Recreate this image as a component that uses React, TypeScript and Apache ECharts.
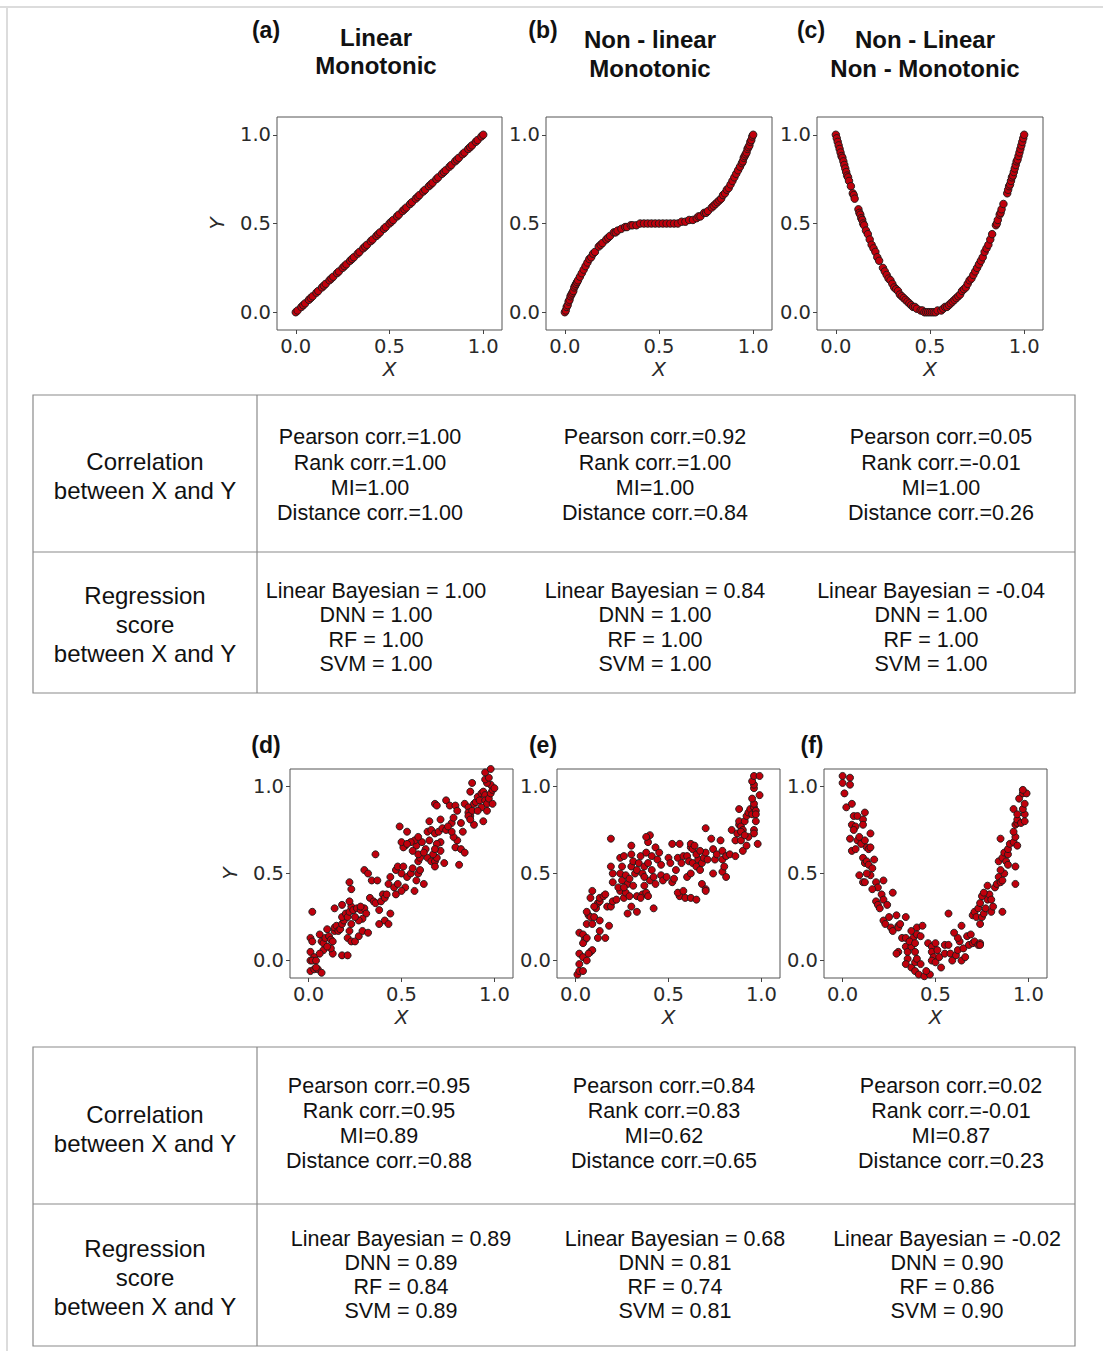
import React, { useEffect, useRef } from "react";
import * as echarts from "echarts";

// ---------- tick labels ----------
const tickValues = [0, 0.5, 1.0];

// ---------- (a) linear monotonic ----------
const aX = [0.00,0.01,0.03,0.04,0.05,0.07,0.08,0.09,0.11,0.12,0.14,0.15,0.16,0.18,0.19,0.20,0.22,0.23,0.25,0.26,0.27,0.29,0.30,0.31,0.33,0.34,0.36,0.37,0.38,0.40,0.41,0.43,0.44,0.45,0.47,0.48,0.50,0.51,0.52,0.54,0.55,0.57,0.58,0.59,0.61,0.62,0.64,0.65,0.66,0.68,0.69,0.71,0.72,0.73,0.75,0.76,0.78,0.79,0.80,0.82,0.83,0.85,0.86,0.87,0.89,0.90,0.92,0.93,0.94,0.96,0.97,0.99,1.00];
const aY = [0.00,0.01,0.03,0.04,0.05,0.07,0.08,0.09,0.11,0.12,0.14,0.15,0.16,0.18,0.19,0.20,0.22,0.23,0.25,0.26,0.27,0.29,0.30,0.31,0.33,0.34,0.36,0.37,0.38,0.40,0.41,0.43,0.44,0.45,0.47,0.48,0.50,0.51,0.52,0.54,0.55,0.57,0.58,0.59,0.61,0.62,0.64,0.65,0.66,0.68,0.69,0.71,0.72,0.73,0.75,0.76,0.78,0.79,0.80,0.82,0.83,0.85,0.86,0.87,0.89,0.90,0.92,0.93,0.94,0.96,0.97,0.99,1.00];

// ---------- (b) non-linear monotonic ----------
const bX = [0.000,0.005,0.010,0.015,0.020,0.025,0.030,0.035,0.040,0.045,0.050,0.055,0.060,0.065,0.070,0.080,0.090,0.100,0.110,0.120,0.130,0.140,0.150,0.160,0.180,0.190,0.200,0.220,0.230,0.240,0.260,0.270,0.280,0.300,0.320,0.330,0.350,0.360,0.380,0.400,0.420,0.440,0.460,0.480,0.500,0.520,0.540,0.560,0.580,0.600,0.620,0.640,0.660,0.680,0.700,0.710,0.720,0.740,0.750,0.760,0.780,0.790,0.800,0.810,0.820,0.830,0.840,0.850,0.860,0.870,0.880,0.890,0.900,0.910,0.920,0.930,0.940,0.945,0.950,0.955,0.960,0.965,0.970,0.975,0.980,0.985,0.990,0.995,1.000];
const bY = [0.00,0.01,0.03,0.04,0.06,0.07,0.09,0.10,0.11,0.12,0.14,0.15,0.16,0.17,0.18,0.20,0.22,0.24,0.26,0.28,0.30,0.31,0.33,0.34,0.37,0.38,0.39,0.41,0.42,0.43,0.45,0.45,0.46,0.47,0.48,0.48,0.49,0.49,0.49,0.50,0.50,0.50,0.50,0.50,0.50,0.50,0.50,0.50,0.50,0.50,0.51,0.51,0.52,0.52,0.53,0.54,0.54,0.56,0.56,0.57,0.59,0.60,0.61,0.62,0.63,0.64,0.66,0.67,0.69,0.70,0.72,0.74,0.76,0.78,0.80,0.82,0.84,0.85,0.87,0.88,0.89,0.90,0.92,0.93,0.94,0.96,0.97,0.99,1.00];

// ---------- (c) non-linear non-monotonic ----------
const cX = [0.000,0.005,0.010,0.015,0.020,0.025,0.030,0.035,0.040,0.045,0.050,0.055,0.060,0.065,0.070,0.080,0.090,0.095,0.100,0.120,0.125,0.130,0.135,0.140,0.145,0.150,0.160,0.170,0.180,0.190,0.200,0.210,0.220,0.230,0.250,0.260,0.270,0.280,0.290,0.300,0.310,0.320,0.330,0.340,0.350,0.360,0.370,0.380,0.390,0.400,0.410,0.420,0.430,0.450,0.460,0.470,0.480,0.490,0.500,0.510,0.520,0.530,0.540,0.560,0.570,0.580,0.590,0.600,0.610,0.620,0.630,0.640,0.650,0.660,0.670,0.680,0.690,0.700,0.710,0.720,0.730,0.740,0.750,0.760,0.770,0.780,0.790,0.800,0.810,0.820,0.830,0.850,0.855,0.860,0.870,0.875,0.880,0.890,0.910,0.915,0.920,0.925,0.930,0.935,0.940,0.945,0.950,0.955,0.960,0.965,0.970,0.975,0.980,0.985,0.990,0.995,1.000];
const cY = [1.00,0.98,0.96,0.94,0.92,0.90,0.88,0.87,0.85,0.83,0.81,0.79,0.77,0.76,0.74,0.71,0.67,0.66,0.64,0.58,0.56,0.55,0.53,0.52,0.50,0.49,0.46,0.44,0.41,0.38,0.36,0.34,0.31,0.29,0.25,0.23,0.21,0.19,0.18,0.16,0.14,0.13,0.12,0.10,0.09,0.08,0.07,0.06,0.05,0.04,0.03,0.03,0.02,0.01,0.01,0.00,0.00,0.00,0.00,0.00,0.00,0.00,0.01,0.01,0.02,0.03,0.03,0.04,0.05,0.06,0.07,0.08,0.09,0.10,0.12,0.13,0.14,0.16,0.18,0.19,0.21,0.23,0.25,0.27,0.29,0.31,0.34,0.36,0.38,0.41,0.44,0.49,0.50,0.52,0.55,0.56,0.58,0.61,0.67,0.69,0.71,0.72,0.74,0.76,0.77,0.79,0.81,0.83,0.85,0.86,0.88,0.90,0.92,0.94,0.96,0.98,1.00];

// ---------- (d) noisy linear ----------
const dPoints = [
[0.02,0.28],[0.01,0.13],[0.02,0.11],[0.01,0.05],[0.03,0.02],[0.01,0.00],[0.02,0.00],[0.04,0.00],[0.01,-0.06],[0.03,-0.05],[0.05,-0.05],[0.07,-0.07],[0.04,-0.04],
[0.06,0.15],[0.07,0.11],[0.08,0.10],[0.10,0.18],[0.09,0.13],[0.11,0.14],[0.12,0.12],[0.13,0.11],[0.14,0.17],[0.14,0.19],[0.15,0.20],[0.16,0.17],[0.17,0.18],[0.18,0.21],[0.19,0.23],[0.18,0.25],[0.20,0.27],[0.21,0.25],[0.22,0.28],[0.23,0.31],[0.24,0.29],[0.26,0.30],[0.28,0.29],[0.30,0.30],[0.31,0.27],[0.29,0.24],[0.27,0.23],[0.25,0.25],[0.23,0.21],[0.22,0.17],[0.21,0.13],[0.23,0.11],[0.25,0.11],[0.27,0.14],[0.29,0.17],[0.32,0.16],
[0.13,0.04],[0.12,0.07],[0.08,0.06],[0.06,0.04],[0.10,0.08],[0.18,0.03],[0.21,0.03],[0.14,0.30],[0.18,0.32],[0.22,0.45],[0.23,0.41],[0.22,0.34],[0.28,0.31],
[0.30,0.52],[0.32,0.50],[0.34,0.46],[0.36,0.61],[0.37,0.46],[0.33,0.36],[0.35,0.34],[0.36,0.33],[0.38,0.29],[0.39,0.34],[0.40,0.38],[0.41,0.36],[0.38,0.21],[0.41,0.23],[0.43,0.21],[0.44,0.27],[0.42,0.38],[0.43,0.44],[0.44,0.48],[0.46,0.42],[0.47,0.38],[0.48,0.44],[0.47,0.52],[0.48,0.54],[0.50,0.50],[0.51,0.54],[0.52,0.42],[0.50,0.40],[0.53,0.48],[0.55,0.50],[0.56,0.53],[0.57,0.40],[0.58,0.46],[0.59,0.50],[0.60,0.52],[0.62,0.44],[0.59,0.57],[0.60,0.59],[0.59,0.61],[0.58,0.66],[0.57,0.69],[0.55,0.68],[0.53,0.74],[0.52,0.66],[0.51,0.65],[0.50,0.68],[0.49,0.77],[0.53,0.67],[0.56,0.63],
[0.64,0.59],[0.66,0.57],[0.68,0.57],[0.69,0.59],[0.71,0.63],[0.73,0.56],[0.68,0.54],[0.67,0.61],[0.65,0.69],[0.64,0.74],[0.66,0.75],[0.68,0.73],[0.70,0.74],[0.72,0.76],[0.74,0.75],[0.71,0.68],[0.69,0.67],[0.68,0.64],[0.63,0.64],[0.61,0.68],[0.59,0.71],[0.62,0.62],[0.65,0.80],[0.68,0.90],[0.69,0.89],[0.71,0.81],[0.74,0.92],[0.76,0.89],[0.77,0.79],[0.78,0.82],[0.79,0.89],[0.80,0.86],[0.82,0.79],[0.83,0.74],[0.80,0.69],[0.78,0.71],[0.79,0.65],[0.82,0.64],[0.84,0.62],[0.81,0.55],[0.77,0.74],[0.75,0.77],
[0.84,0.90],[0.86,0.88],[0.86,0.85],[0.87,0.83],[0.88,0.86],[0.89,0.90],[0.90,0.91],[0.91,0.94],[0.92,0.92],[0.93,0.96],[0.94,0.97],[0.95,0.95],[0.95,0.92],[0.96,0.90],[0.97,0.93],[0.98,0.96],[0.99,0.98],[0.98,1.01],[0.96,1.02],[0.95,1.04],[0.97,1.05],[0.95,1.08],[0.98,1.10],[0.88,1.02],[0.87,0.97],[0.89,0.78],[0.94,0.80],[0.96,0.86],[0.99,0.90],[1.00,0.99],[0.93,0.88],[0.91,0.86],[0.86,0.83],[0.87,0.81]
];

// ---------- (e) noisy non-linear monotonic ----------
const ePoints = [
[0.01,-0.08],[0.02,-0.06],[0.04,-0.06],[0.02,-0.02],[0.02,0.04],[0.04,0.02],[0.06,0.00],[0.08,0.05],[0.09,0.06],[0.07,0.04],[0.02,0.16],[0.04,0.15],[0.05,0.12],[0.04,0.10],[0.06,0.13],[0.06,0.21],[0.07,0.26],[0.08,0.25],[0.06,0.28],[0.09,0.21],[0.10,0.25],[0.11,0.30],[0.12,0.33],[0.10,0.31],[0.13,0.34],[0.13,0.36],[0.15,0.37],[0.16,0.38],[0.09,0.40],[0.08,0.36],[0.13,0.23],[0.13,0.17],[0.12,0.13],[0.16,0.13],[0.18,0.20],[0.17,0.31],[0.19,0.31],[0.20,0.34],
[0.19,0.70],[0.20,0.50],[0.19,0.54],[0.20,0.45],[0.22,0.35],[0.24,0.40],[0.23,0.42],[0.25,0.46],[0.24,0.50],[0.25,0.54],[0.24,0.59],[0.26,0.60],[0.27,0.49],[0.26,0.36],[0.27,0.39],[0.28,0.44],[0.29,0.47],[0.30,0.54],[0.30,0.61],[0.30,0.66],[0.31,0.57],[0.32,0.50],[0.33,0.52],[0.34,0.56],[0.35,0.60],[0.36,0.50],[0.37,0.54],[0.33,0.37],[0.36,0.38],[0.38,0.39],[0.39,0.37],[0.37,0.43],[0.40,0.46],[0.42,0.48],[0.43,0.44],[0.41,0.52],[0.39,0.56],[0.38,0.62],[0.39,0.68],[0.40,0.72],[0.38,0.71],[0.41,0.60],[0.43,0.65],[0.44,0.58],[0.45,0.62],[0.46,0.55],[0.46,0.49],[0.47,0.46],[0.49,0.48],[0.50,0.59],[0.51,0.56],[0.52,0.45],[0.53,0.47],[0.54,0.52],[0.30,0.31],[0.28,0.27],[0.33,0.28],[0.42,0.30],[0.29,0.37],[0.35,0.36],[0.37,0.48],[0.31,0.43],[0.26,0.42],
[0.52,0.67],[0.56,0.67],[0.55,0.59],[0.57,0.56],[0.56,0.37],[0.55,0.39],[0.58,0.40],[0.59,0.36],[0.62,0.36],[0.65,0.35],[0.58,0.60],[0.60,0.60],[0.61,0.57],[0.62,0.65],[0.62,0.67],[0.63,0.64],[0.64,0.66],[0.60,0.48],[0.62,0.50],[0.63,0.56],[0.65,0.54],[0.66,0.58],[0.67,0.52],[0.68,0.56],[0.69,0.59],[0.70,0.62],[0.71,0.58],[0.68,0.44],[0.70,0.41],[0.70,0.40],[0.65,0.61],[0.67,0.63],[0.70,0.76],[0.73,0.70],[0.74,0.64],[0.74,0.50],[0.75,0.58],[0.76,0.61],[0.78,0.69],[0.79,0.58],[0.79,0.63],[0.79,0.51],[0.81,0.48],[0.80,0.54],[0.81,0.60],[0.83,0.61],[0.86,0.60],
[0.84,0.75],[0.86,0.69],[0.87,0.73],[0.88,0.78],[0.88,0.80],[0.89,0.77],[0.90,0.75],[0.91,0.80],[0.92,0.83],[0.93,0.85],[0.94,0.87],[0.95,0.84],[0.96,0.88],[0.96,0.90],[0.97,0.86],[0.97,0.84],[0.96,0.75],[0.96,0.73],[0.97,0.80],[0.89,0.69],[0.90,0.63],[0.92,0.66],[0.93,0.71],[0.98,0.67],[0.88,0.87],[0.95,0.93],[0.96,0.99],[0.96,1.01],[0.95,1.03],[0.96,1.06],[0.99,1.06],[0.99,0.95],[0.89,0.74],[0.91,0.72]
];

// ---------- (f) noisy non-monotonic ----------
const fPoints = [
[0.00,1.06],[0.04,1.05],[0.00,1.02],[0.04,1.01],[0.01,0.96],[0.02,0.88],[0.05,0.90],[0.06,0.83],[0.08,0.83],[0.05,0.78],[0.07,0.77],[0.11,0.81],[0.12,0.85],[0.11,0.78],[0.06,0.75],[0.04,0.70],[0.05,0.63],[0.08,0.69],[0.09,0.71],[0.10,0.67],[0.12,0.69],[0.13,0.65],[0.14,0.64],[0.15,0.73],[0.15,0.65],[0.07,0.64],[0.11,0.59],[0.12,0.56],[0.13,0.57],[0.14,0.55],[0.16,0.53],[0.17,0.58],[0.15,0.49],[0.13,0.50],[0.09,0.49],[0.11,0.45],[0.12,0.45],[0.18,0.45],[0.19,0.42],[0.22,0.46],[0.16,0.41],[0.21,0.38],[0.18,0.34],[0.19,0.32],[0.20,0.30],[0.22,0.35],[0.24,0.32],[0.27,0.39],
[0.22,0.23],[0.23,0.21],[0.25,0.25],[0.26,0.19],[0.27,0.17],[0.29,0.26],[0.30,0.20],[0.30,0.19],[0.31,0.21],[0.34,0.25],[0.32,0.13],[0.34,0.13],[0.37,0.17],[0.38,0.13],[0.40,0.19],[0.40,0.15],[0.42,0.14],[0.43,0.20],[0.30,0.05],[0.29,0.04],[0.34,0.08],[0.35,0.05],[0.37,0.08],[0.36,0.11],[0.39,0.10],[0.39,0.05],[0.35,0.01],[0.34,-0.02],[0.37,-0.04],[0.39,-0.01],[0.40,0.01],[0.39,-0.06],[0.41,-0.08],[0.44,-0.09],[0.47,-0.08],[0.45,-0.06],[0.42,-0.02],
[0.46,0.10],[0.48,0.08],[0.48,0.05],[0.50,0.10],[0.51,0.06],[0.49,0.02],[0.48,0.00],[0.50,-0.01],[0.52,0.02],[0.53,-0.04],[0.55,0.04],[0.55,0.09],[0.57,0.09],[0.58,0.04],[0.59,0.00],[0.61,0.03],[0.62,0.06],[0.63,0.11],[0.62,0.13],[0.60,0.16],[0.64,0.20],[0.64,0.00],[0.66,0.02],[0.65,0.07],[0.67,0.14],[0.68,0.09],[0.69,0.15],[0.70,0.10],[0.71,0.11],[0.73,0.09],[0.74,0.10],[0.74,0.09],[0.57,0.27],
[0.70,0.26],[0.71,0.28],[0.72,0.25],[0.73,0.30],[0.74,0.33],[0.74,0.21],[0.75,0.25],[0.76,0.27],[0.77,0.30],[0.78,0.35],[0.79,0.38],[0.80,0.28],[0.81,0.31],[0.80,0.35],[0.75,0.37],[0.76,0.39],[0.78,0.43],[0.82,0.42],[0.83,0.44],[0.84,0.48],[0.85,0.45],[0.86,0.46],[0.87,0.50],[0.85,0.52],[0.84,0.57],[0.86,0.59],[0.88,0.57],[0.87,0.62],[0.89,0.61],[0.89,0.64],[0.86,0.28],[0.89,0.55],[0.93,0.54],[0.93,0.44],
[0.85,0.70],[0.90,0.67],[0.92,0.68],[0.93,0.71],[0.94,0.66],[0.92,0.74],[0.93,0.78],[0.94,0.79],[0.94,0.81],[0.96,0.79],[0.98,0.84],[0.97,0.87],[0.98,0.90],[0.95,0.93],[0.97,0.96],[0.99,0.96],[0.97,0.98],[0.92,0.87],[0.98,0.80],[0.94,0.84]
];

// ---------- text content ----------
const panelLetters = ["(a)", "(b)", "(c)", "(d)", "(e)", "(f)"];
const titleLines = [
  ["Linear", "Monotonic"],
  ["Non - linear", "Monotonic"],
  ["Non - Linear", "Non - Monotonic"],
];
const rowLabelsCorr = ["Correlation", "between X and Y"];
const rowLabelsReg = ["Regression", "score", "between X and Y"];
const corrTop = [
  ["Pearson corr.=1.00", "Rank corr.=1.00", "MI=1.00", "Distance corr.=1.00"],
  ["Pearson corr.=0.92", "Rank corr.=1.00", "MI=1.00", "Distance corr.=0.84"],
  ["Pearson corr.=0.05", "Rank corr.=-0.01", "MI=1.00", "Distance corr.=0.26"],
];
const regTop = [
  ["Linear Bayesian = 1.00", "DNN = 1.00", "RF = 1.00", "SVM = 1.00"],
  ["Linear Bayesian = 0.84", "DNN = 1.00", "RF = 1.00", "SVM = 1.00"],
  ["Linear Bayesian = -0.04", "DNN = 1.00", "RF = 1.00", "SVM = 1.00"],
];
const corrBottom = [
  ["Pearson corr.=0.95", "Rank corr.=0.95", "MI=0.89", "Distance corr.=0.88"],
  ["Pearson corr.=0.84", "Rank corr.=0.83", "MI=0.62", "Distance corr.=0.65"],
  ["Pearson corr.=0.02", "Rank corr.=-0.01", "MI=0.87", "Distance corr.=0.23"],
];
const regBottom = [
  ["Linear Bayesian = 0.89", "DNN = 0.89", "RF = 0.84", "SVM = 0.89"],
  ["Linear Bayesian = 0.68", "DNN = 0.81", "RF = 0.74", "SVM = 0.81"],
  ["Linear Bayesian = -0.02", "DNN = 0.90", "RF = 0.86", "SVM = 0.90"],
];

const TITLE_FONT = "'Liberation Sans', Arial, Helvetica, sans-serif";
const TICK_FONT = "'DejaVu Sans', sans-serif";

export default function App() {
  const ref = useRef<HTMLDivElement>(null);

  useEffect(() => {
    if (!ref.current) return;
    const chart = echarts.init(ref.current, null, { renderer: "svg" });

    const grids = [
      { left: 277, top: 117, width: 225, height: 213 },
      { left: 546, top: 117, width: 226, height: 213 },
      { left: 817, top: 117, width: 226, height: 213 },
      { left: 290, top: 769, width: 223, height: 209 },
      { left: 557, top: 769, width: 223, height: 209 },
      { left: 824, top: 769, width: 223, height: 209 },
    ];

    const zip = (xs: number[], ys: number[]) => xs.map((x, i) => [x, ys[i]]);
    const seriesData = [zip(aX, aY), zip(bX, bY), zip(cX, cY), dPoints, ePoints, fPoints];

    const axisCommon = {
      type: "value",
      min: -0.1,
      max: 1.1,
      splitLine: { show: false },
      axisLine: { show: false, onZero: false },
      axisTick: {
        show: true,
        inside: false,
        length: 4,
        lineStyle: { color: "#444", width: 1 },
        customValues: tickValues,
      },
      axisLabel: {
        show: true,
        margin: 6,
        fontFamily: TICK_FONT,
        fontSize: 19.5,
        color: "#2a2a2a",
        customValues: tickValues,
        formatter: (v: number) => v.toFixed(1),
      },
    };

    const nameStyle = { fontFamily: TICK_FONT, fontSize: 20, fontStyle: "italic", color: "#2a2a2a" };
    const xAxes = grids.map((_, i) => ({
      ...axisCommon,
      gridIndex: i,
      name: "X",
      nameLocation: "middle",
      nameGap: 29,
      nameTextStyle: nameStyle,
    }));
    const yAxes = grids.map((_, i) => ({
      ...axisCommon,
      gridIndex: i,
      name: i === 0 || i === 3 ? "Y" : "",
      nameLocation: "middle",
      nameGap: 50,
      nameTextStyle: nameStyle,
    }));

    const series = seriesData.map((data, i) => ({
      type: "scatter",
      xAxisIndex: i,
      yAxisIndex: i,
      data,
      symbol: "circle",
      symbolSize: i < 3 ? 7.5 : 7,
      itemStyle: { color: "#c0000c", borderColor: "#1a1a1a", borderWidth: 0.9, opacity: 1 },
      emphasis: { disabled: true },
    }));

    const graphics: any[] = [];
    const txt = (text: string, x: number, y: number, size: number, bold = false, align = "center") => {
      graphics.push({
        type: "text",
        x,
        y,
        style: {
          text,
          fill: "#111",
          font: `${bold ? "bold " : ""}${size}px ${TITLE_FONT}`,
          textAlign: align,
          textVerticalAlign: "middle",
        },
      });
    };
    const line = (x1: number, y1: number, x2: number, y2: number, color: string, w = 1) => {
      graphics.push({
        type: "line",
        shape: { x1, y1, x2, y2 },
        style: { stroke: color, lineWidth: w },
      });
    };

    // outer light frame
    line(0, 7, 1103, 7, "#dcdcdc", 2);
    line(7, 7, 7, 1351, "#dcdcdc", 2);

    // panel letters
    const letterPos = [
      [266, 30], [543, 30], [811, 30],
      [266, 745], [543, 745], [812, 745],
    ];
    panelLetters.forEach((l, i) => txt(l, letterPos[i][0], letterPos[i][1], 23, true));

    // titles
    const titleCenters = [376, 650, 925];
    const titleYs = [[37, 65], [39, 68], [39, 68]];
    titleLines.forEach((lines, i) => {
      lines.forEach((t, j) => txt(t, titleCenters[i], titleYs[i][j], 24, true));
    });

    // tables
    const drawTable = (top: number, mid: number, bottom: number, corr: string[][], reg: string[][], corrYs: number[], regYs: number[], corrX: number[], regX: number[], labCorrY: number[], labRegY: number[]) => {
      graphics.push({
        type: "rect",
        shape: { x: 33, y: top, width: 1042, height: bottom - top },
        style: { fill: "none", stroke: "#8a8a8a", lineWidth: 1.2 },
      });
      line(33, mid, 1075, mid, "#8a8a8a", 1.2);
      line(257, top, 257, bottom, "#8a8a8a", 1.2);
      rowLabelsCorr.forEach((t, j) => txt(t, 145, labCorrY[j], 24));
      rowLabelsReg.forEach((t, j) => txt(t, 145, labRegY[j], 24));
      corr.forEach((col, c) => col.forEach((t, j) => txt(t, corrX[c], corrYs[j], 21.5)));
      reg.forEach((col, c) => col.forEach((t, j) => txt(t, regX[c], regYs[j], 21.5)));
    };

    drawTable(395, 552, 693, corrTop, regTop,
      [437, 463, 488, 513], [591, 615, 640, 664],
      [370, 655, 941], [376, 655, 931],
      [461, 490], [595, 624, 653]);
    drawTable(1047, 1204, 1346, corrBottom, regBottom,
      [1086, 1111, 1136, 1161], [1239, 1263, 1287, 1311],
      [379, 664, 951], [401, 675, 947],
      [1114, 1143], [1248, 1277, 1306]);

    chart.setOption({
      animation: false,
      backgroundColor: "#ffffff",
      grid: grids.map((g) => ({
        ...g,
        show: true,
        borderColor: "#555",
        borderWidth: 1,
        backgroundColor: "transparent",
        containLabel: false,
      })),
      xAxis: xAxes,
      yAxis: yAxes,
      series,
      graphic: graphics,
    });

    return () => chart.dispose();
  }, []);

  return (
    <div
      ref={ref}
      style={{ position: "absolute", left: 0, top: 0, width: 1103, height: 1351 }}
    />
  );
}
